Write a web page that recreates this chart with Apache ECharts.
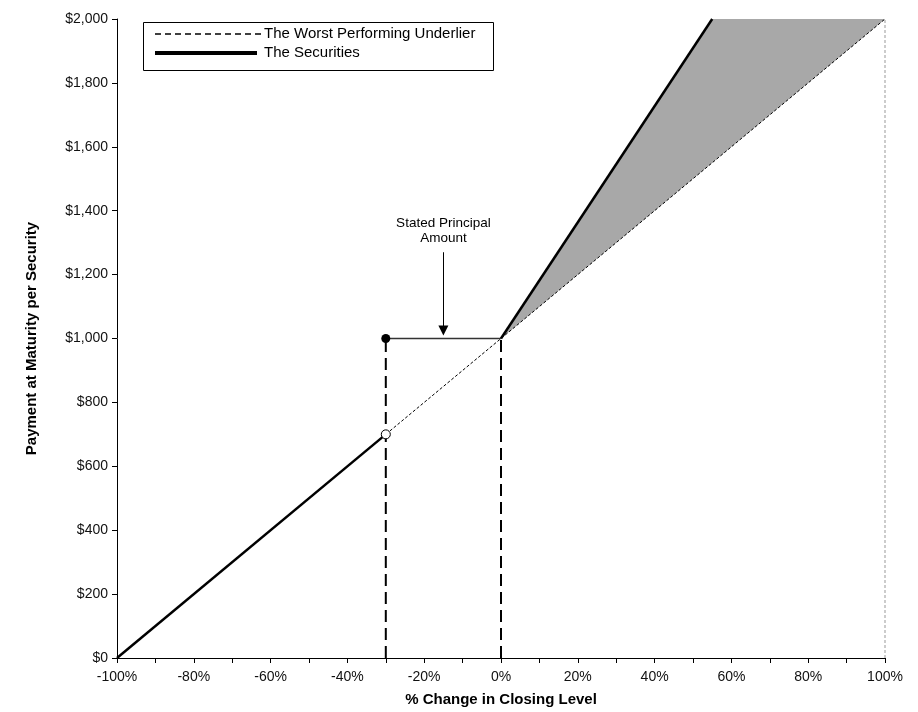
<!DOCTYPE html>
<html>
<head>
<meta charset="utf-8">
<script src="https://cdn.jsdelivr.net/npm/echarts@6/dist/echarts.min.js"></script>
<style>
  html, body { margin: 0; padding: 0; background: #fff; }
  #chart { width: 918px; height: 712px; }
</style>
</head>
<body>
<div id="chart"></div>
<script>
var dom = document.getElementById("chart");
var myChart = echarts.init(dom);

// underlier: payment = 1000 * (1 + change)
var underlier = [[-100, 0], [100, 2000]];
// securities below the barrier follow the underlier
var securitiesDown = [[-100, 0], [-30, 700]];
// between barrier and 0% the principal is returned
var principalFlat = [[-30, 1000], [0, 1000]];
// above 0% the securities rise faster (leveraged upside)
var securitiesUp = [[0, 1000], [55, 2000]];
// shaded gap between securities and underlier
var shadeUpper = [[0, 1000], [55, 2000], [100, 2000]];
var shadeLower = [[100, 2000], [0, 1000]];
// dashed verticals at the barrier and 0%
var barrierLine = [[-30, 0], [-30, 1000]];
var zeroLine = [[0, 0], [0, 1000]];
var rightEdge = [[100, 0], [100, 2000]];
var filledDot = [[-30, 1000]];
var openDot = [[-30, 700]];
var arrowFrom = [-15, 1270];
var arrowTo = [-15, 1025];

var font = 'Liberation Sans, Arial, sans-serif';

var option = {
    animation: false,
    grid: { left: 117, right: 33, top: 19, bottom: 54 },
    xAxis: {
        type: 'value',
        min: -100,
        max: 100,
        interval: 10,
        name: '% Change in Closing Level',
        nameLocation: 'middle',
        nameGap: 34,
        nameTextStyle: { fontFamily: font, fontSize: 15, fontWeight: 'bold', color: '#000' },
        axisLine: { onZero: false, lineStyle: { color: '#000', width: 1 } },
        axisTick: { length: 5, lineStyle: { color: '#000' } },
        axisLabel: {
            fontFamily: font, fontSize: 14, color: '#111', margin: 12,
            formatter: function (v) { return v % 20 === 0 ? v + '%' : ''; }
        },
        splitLine: { show: false }
    },
    yAxis: {
        type: 'value',
        min: 0,
        max: 2000,
        interval: 200,
        name: 'Payment at Maturity per Security',
        nameLocation: 'middle',
        nameGap: 78,
        nameTextStyle: { fontFamily: font, fontSize: 15, fontWeight: 'bold', color: '#000' },
        axisLine: { show: true, onZero: false, lineStyle: { color: '#000', width: 1 } },
        axisTick: { show: true, length: 5, lineStyle: { color: '#000' } },
        axisLabel: {
            fontFamily: font, fontSize: 14, color: '#111', margin: 9,
            formatter: function (v) { return '$' + v.toLocaleString('en-US'); }
        },
        splitLine: { show: false }
    },
    series: [
        {
            type: 'custom',
            name: 'shade',
            silent: true,
            z: 1,
            renderItem: function (params, api) {
                var pts = shadeUpper.concat(shadeLower).map(function (p) { return api.coord(p); });
                return { type: 'polygon', shape: { points: pts }, style: { fill: '#a8a8a8' } };
            },
            data: [0]
        },
        {
            type: 'line', data: rightEdge, symbol: 'none', z: 2,
            lineStyle: { color: '#999', width: 1, type: [3, 2] }
        },
        {
            type: 'line', data: underlier, symbol: 'none', z: 3,
            lineStyle: { color: '#000', width: 1, type: [3, 2] }
        },
        {
            type: 'line', data: barrierLine, symbol: 'none', z: 3,
            lineStyle: { color: '#000', width: 2, type: [12, 6] }
        },
        {
            type: 'line', data: zeroLine, symbol: 'none', z: 3,
            lineStyle: { color: '#000', width: 2, type: [12, 6] }
        },
        {
            type: 'line', data: securitiesDown, symbol: 'none', z: 4,
            lineStyle: { color: '#000', width: 2.5 }
        },
        {
            type: 'line', data: principalFlat, symbol: 'none', z: 4,
            lineStyle: { color: '#333', width: 1.5 },
            markLine: {
                silent: true,
                symbol: ['none', 'triangle'],
                symbolSize: [10, 10],
                lineStyle: { color: '#000', width: 1, type: 'solid' },
                label: {
                    show: true, position: 'start', distance: 6,
                    formatter: 'Stated Principal\nAmount',
                    fontFamily: font, fontSize: 13.5, color: '#000', lineHeight: 15
                },
                data: [[{ coord: arrowFrom }, { coord: arrowTo }]]
            }
        },
        {
            type: 'line', data: securitiesUp, symbol: 'none', z: 4,
            lineStyle: { color: '#000', width: 2.5 }
        },
        {
            type: 'scatter', data: filledDot, symbol: 'circle', symbolSize: 9, z: 5,
            itemStyle: { color: '#000', opacity: 1 }
        },
        {
            type: 'scatter', data: openDot, symbol: 'circle', symbolSize: 9, z: 5,
            itemStyle: { color: '#fff', borderColor: '#000', borderWidth: 1, opacity: 1 }
        }
    ],
    graphic: [
        {
            type: 'rect', left: 143, top: 22, z: 10,
            shape: { width: 350, height: 48 },
            style: { fill: '#fff', stroke: '#000', lineWidth: 1 }
        },
        {
            type: 'line', z: 11,
            shape: { x1: 155, y1: 34, x2: 262, y2: 34 },
            style: { stroke: '#000', lineWidth: 1.5, lineDash: [6, 4] }
        },
        {
            type: 'text', left: 264, top: 26, z: 11,
            style: { text: 'The Worst Performing Underlier', font: '15px ' + font, fill: '#000' }
        },
        {
            type: 'line', z: 11,
            shape: { x1: 155, y1: 53, x2: 257, y2: 53 },
            style: { stroke: '#000', lineWidth: 4 }
        },
        {
            type: 'text', left: 264, top: 45, z: 11,
            style: { text: 'The Securities', font: '15px ' + font, fill: '#000' }
        }
    ]
};

if (option && typeof option === 'object') {
    myChart.setOption(option);
}
</script>
</body>
</html>
